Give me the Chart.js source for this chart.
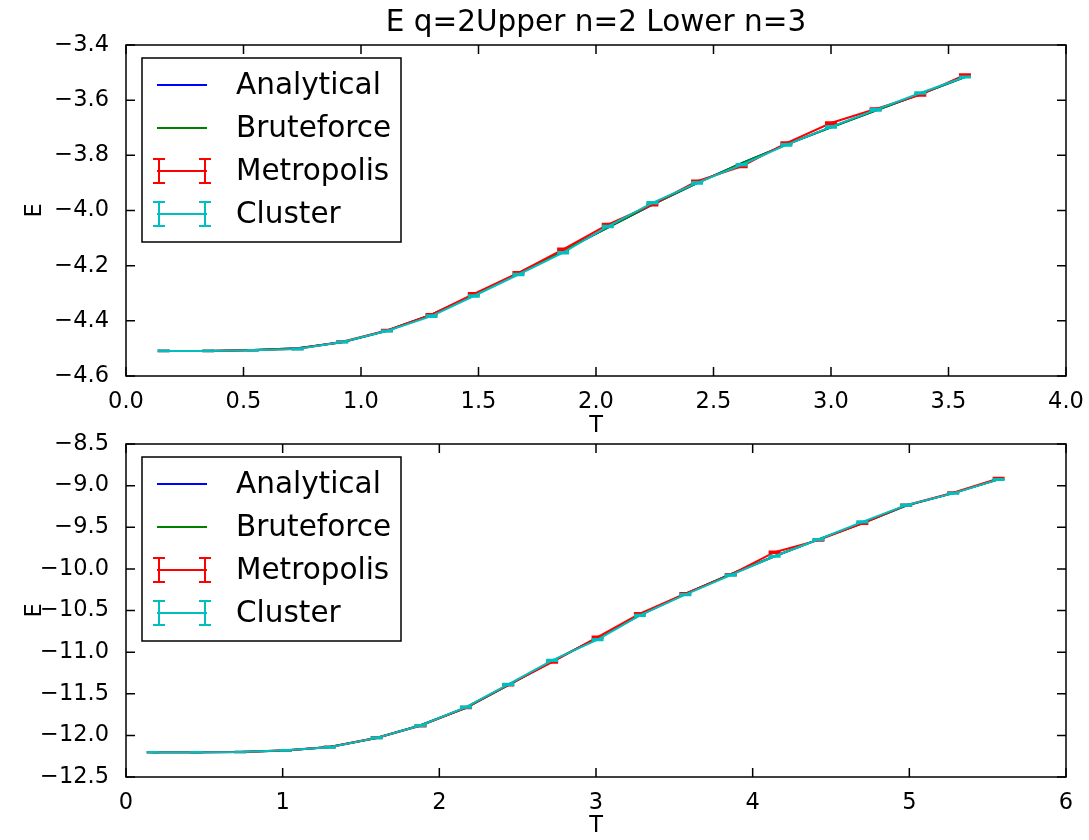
<!DOCTYPE html>
<html>
<head>
<meta charset="utf-8">
<script src="https://cdn.jsdelivr.net/npm/chart.js@4.4.0/dist/chart.umd.min.js"></script>
<style>
  body { margin: 0; background: #fff; }
  #wrap { position: relative; width: 1089px; height: 840px; }
  #wrap canvas { position: absolute; left: 0; top: 0; }
</style>
</head>
<body>
<div id="wrap">
  <canvas id="upper" width="1089" height="840"></canvas>
  <canvas id="lower" width="1089" height="840"></canvas>
</div>
<script>
const titleText = 'E q=2Upper n=2 Lower n=3';
const seriesNames = ['Analytical', 'Bruteforce', 'Metropolis', 'Cluster'];
const seriesColors = ['#0000ff', '#008000', '#ff0000', '#00bfbf'];

// upper panel
const upperT = [0.16, 0.35, 0.54, 0.73, 0.92, 1.11, 1.30, 1.48, 1.67, 1.86, 2.05, 2.24, 2.43, 2.62, 2.81, 3.00, 3.19, 3.38, 3.57];
const upperAnalytical = [-4.509, -4.509, -4.506, -4.499, -4.478, -4.436, -4.378, -4.306, -4.227, -4.146, -4.062, -3.979, -3.901, -3.828, -3.761, -3.698, -3.638, -3.578, -3.516];
const upperBruteforce = [-4.509, -4.509, -4.506, -4.499, -4.478, -4.436, -4.378, -4.306, -4.227, -4.146, -4.062, -3.979, -3.901, -3.828, -3.761, -3.698, -3.638, -3.578, -3.516];
const upperMetropolis = [-4.509, -4.509, -4.507, -4.501, -4.476, -4.435, -4.378, -4.302, -4.226, -4.141, -4.051, -3.979, -3.894, -3.840, -3.756, -3.683, -3.632, -3.581, -3.508];
const upperMetropolisErr = [0.001, 0.001, 0.001, 0.002, 0.002, 0.003, 0.003, 0.003, 0.003, 0.003, 0.003, 0.003, 0.003, 0.003, 0.003, 0.003, 0.003, 0.003, 0.002];
const upperCluster = [-4.509, -4.509, -4.507, -4.502, -4.477, -4.437, -4.383, -4.310, -4.232, -4.153, -4.058, -3.972, -3.900, -3.834, -3.762, -3.697, -3.635, -3.574, -3.516];
const upperClusterErr = [0.001, 0.001, 0.001, 0.002, 0.002, 0.002, 0.003, 0.003, 0.003, 0.003, 0.003, 0.003, 0.003, 0.003, 0.003, 0.003, 0.003, 0.003, 0.002];
const upperXTicks = [0, 0.5, 1, 1.5, 2, 2.5, 3, 3.5, 4];
const upperYTicks = [-4.6, -4.4, -4.2, -4.0, -3.8, -3.6, -3.4];

// lower panel
const lowerT = [0.17, 0.45, 0.73, 1.02, 1.30, 1.60, 1.88, 2.17, 2.44, 2.72, 3.01, 3.28, 3.57, 3.86, 4.14, 4.42, 4.70, 4.98, 5.28, 5.57];
const lowerAnalytical = [-12.203, -12.203, -12.201, -12.183, -12.140, -12.032, -11.878, -11.668, -11.395, -11.110, -10.830, -10.555, -10.300, -10.065, -9.848, -9.645, -9.452, -9.240, -9.090, -8.925];
const lowerBruteforce = [-12.203, -12.203, -12.201, -12.183, -12.140, -12.032, -11.878, -11.668, -11.395, -11.110, -10.830, -10.555, -10.300, -10.065, -9.848, -9.645, -9.452, -9.240, -9.090, -8.925];
const lowerMetropolis = [-12.203, -12.203, -12.200, -12.180, -12.140, -12.028, -11.885, -11.665, -11.392, -11.120, -10.819, -10.537, -10.297, -10.070, -9.800, -9.655, -9.454, -9.234, -9.086, -8.913];
const lowerMetropolisErr = [0.003, 0.003, 0.004, 0.005, 0.006, 0.007, 0.008, 0.008, 0.008, 0.008, 0.008, 0.008, 0.008, 0.008, 0.008, 0.008, 0.008, 0.008, 0.007, 0.007];
const lowerCluster = [-12.203, -12.203, -12.200, -12.180, -12.143, -12.030, -11.881, -11.661, -11.388, -11.099, -10.850, -10.558, -10.309, -10.076, -9.848, -9.647, -9.435, -9.234, -9.093, -8.925];
const lowerClusterErr = [0.003, 0.003, 0.004, 0.005, 0.005, 0.006, 0.007, 0.007, 0.007, 0.007, 0.007, 0.007, 0.007, 0.007, 0.007, 0.007, 0.007, 0.007, 0.006, 0.006];
const lowerXTicks = [0, 1, 2, 3, 4, 5, 6];
const lowerYTicks = [-12.5, -12.0, -11.5, -11.0, -10.5, -10.0, -9.5, -9.0, -8.5];

Chart.defaults.font.family = 'DejaVu Sans';
Chart.defaults.color = '#000';

const fmt = v => v.toFixed(1).replace('-', '\u2212');

// error bars with caps, drawn right after each dataset's line
const errorBars = {
  id: 'errorBars',
  afterDatasetDraw(chart, args) {
    const ds = chart.data.datasets[args.index];
    if (!ds.errors) return;
    const { ctx, scales: { x, y } } = chart;
    ctx.save();
    ctx.strokeStyle = ds.borderColor;
    ctx.lineWidth = 2;
    ctx.beginPath();
    ds.data.forEach((pt, i) => {
      const px = x.getPixelForValue(pt.x);
      const hi = y.getPixelForValue(pt.y + ds.errors[i]);
      const lo = y.getPixelForValue(pt.y - ds.errors[i]);
      ctx.moveTo(px, hi); ctx.lineTo(px, lo);
      ctx.moveTo(px - 6, hi); ctx.lineTo(px + 6, hi);
      ctx.moveTo(px - 6, lo); ctx.lineTo(px + 6, lo);
    });
    ctx.stroke();
    ctx.restore();
  }
};

// matplotlib-like frame, inward ticks, boxed legend and title
const frame = {
  id: 'frame',
  afterDraw(chart, args, opts) {
    const { ctx, chartArea: a, scales: { x, y } } = chart;
    ctx.save();
    ctx.strokeStyle = '#000';
    ctx.lineWidth = 1.5;
    ctx.strokeRect(a.left, a.top, a.right - a.left, a.bottom - a.top);
    ctx.beginPath();
    x.ticks.forEach(t => {
      const px = x.getPixelForValue(t.value);
      ctx.moveTo(px, a.bottom); ctx.lineTo(px, a.bottom - 9);
      ctx.moveTo(px, a.top); ctx.lineTo(px, a.top + 9);
    });
    y.ticks.forEach(t => {
      const py = y.getPixelForValue(t.value);
      ctx.moveTo(a.left, py); ctx.lineTo(a.left + 9, py);
      ctx.moveTo(a.right, py); ctx.lineTo(a.right - 9, py);
    });
    ctx.stroke();

    // legend
    const bx = a.left + 16, by = a.top + 13;
    ctx.fillStyle = '#fff';
    ctx.fillRect(bx, by, 259, 184);
    ctx.strokeRect(bx, by, 259, 184);
    ctx.font = '29.5px "DejaVu Sans"';
    ctx.textBaseline = 'middle';
    chart.data.datasets.forEach((ds, i) => {
      const ry = by + 27 + 43 * i;
      ctx.strokeStyle = ds.borderColor;
      ctx.lineWidth = 2;
      ctx.beginPath();
      ctx.moveTo(bx + 15, ry); ctx.lineTo(bx + 65, ry);
      if (ds.errors) {
        [bx + 17, bx + 63].forEach(ex => {
          ctx.moveTo(ex, ry - 12); ctx.lineTo(ex, ry + 12);
          ctx.moveTo(ex - 6, ry - 12); ctx.lineTo(ex + 6, ry - 12);
          ctx.moveTo(ex - 6, ry + 12); ctx.lineTo(ex + 6, ry + 12);
        });
      }
      ctx.stroke();
      ctx.fillStyle = '#000';
      ctx.fillText(ds.label, bx + 94, ry + 1);
    });

    if (opts.title) {
      ctx.font = '29.5px "DejaVu Sans"';
      ctx.textAlign = 'center';
      ctx.textBaseline = 'middle';
      ctx.fillStyle = '#000';
      ctx.fillText(opts.title, (a.left + a.right) / 2, a.top - 22);
    }
    ctx.restore();
  }
};

function makeChart(id, p) {
  const series = [p.analytical, p.bruteforce, p.metropolis, p.cluster];
  const errs = [null, null, p.metropolisErr, p.clusterErr];
  const datasets = series.map((ys, i) => ({
    label: seriesNames[i],
    data: p.t.map((t, k) => ({ x: t, y: ys[k] })),
    borderColor: seriesColors[i],
    backgroundColor: seriesColors[i],
    borderWidth: 2,
    pointRadius: 0,
    tension: 0,
    order: 3 - i, // later series drawn on top, as in the original
    errors: errs[i]
  }));
  return new Chart(document.getElementById(id), {
    type: 'line',
    data: { datasets },
    plugins: [errorBars, frame],
    options: {
      responsive: false,
      animation: false,
      events: [],
      layout: { padding: p.padding },
      plugins: {
        legend: { display: false },
        tooltip: { enabled: false },
        frame: { title: p.title }
      },
      scales: {
        x: {
          type: 'linear',
          min: p.xTicks[0],
          max: p.xTicks[p.xTicks.length - 1],
          grid: { display: false },
          border: { display: false },
          afterBuildTicks: s => { s.ticks = p.xTicks.map(v => ({ value: v })); },
          afterFit: s => { s.height = p.xAxisHeight; },
          ticks: { font: { size: 22.5 }, padding: 5, maxRotation: 0, autoSkip: false, callback: p.xFmt },
          title: { display: true, text: 'T', font: { size: 22.5 }, padding: { top: 0, bottom: 0 } }
        },
        y: {
          type: 'linear',
          min: p.yTicks[0],
          max: p.yTicks[p.yTicks.length - 1],
          grid: { display: false },
          border: { display: false },
          afterBuildTicks: s => { s.ticks = p.yTicks.map(v => ({ value: v })); },
          afterFit: s => { s.width = 126; },
          ticks: { font: { size: 22.5 }, padding: 9, autoSkip: false, callback: v => fmt(v) },
          title: { display: true, text: 'E', font: { size: 22.5 }, padding: { top: 22, bottom: 0 } }
        }
      }
    }
  });
}

makeChart('upper', {
  t: upperT, analytical: upperAnalytical, bruteforce: upperBruteforce,
  metropolis: upperMetropolis, metropolisErr: upperMetropolisErr,
  cluster: upperCluster, clusterErr: upperClusterErr,
  xTicks: upperXTicks, yTicks: upperYTicks,
  xFmt: v => v.toFixed(1),
  title: titleText,
  padding: { left: 0, top: 45, right: 23, bottom: 400 },
  xAxisHeight: 64
});

makeChart('lower', {
  t: lowerT, analytical: lowerAnalytical, bruteforce: lowerBruteforce,
  metropolis: lowerMetropolis, metropolisErr: lowerMetropolisErr,
  cluster: lowerCluster, clusterErr: lowerClusterErr,
  xTicks: lowerXTicks, yTicks: lowerYTicks,
  xFmt: v => String(v),
  title: null,
  padding: { left: 0, top: 444, right: 23, bottom: 0 },
  xAxisHeight: 63
});
</script>
</body>
</html>
